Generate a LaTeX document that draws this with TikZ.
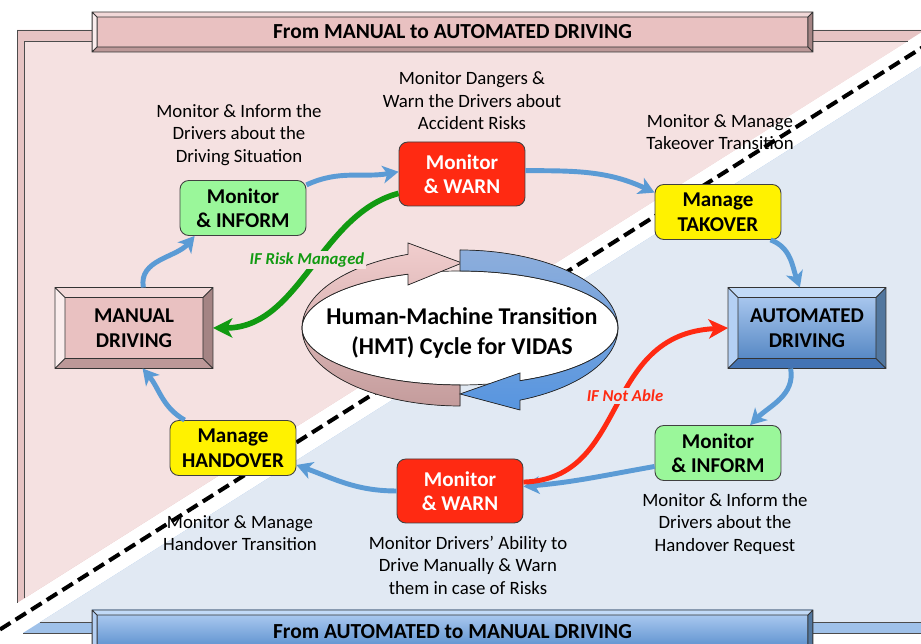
\documentclass[tikz,border=0pt]{standalone}
\usepackage{fontspec}
\setmainfont{Carlito}
\usepackage{tikz}
\usetikzlibrary{arrows.meta,calc,positioning}
\usepackage{color}

\definecolor{pinkband}{HTML}{E6C3C3}
\definecolor{pinkbg}{HTML}{F5E1E1}
\definecolor{blueband}{HTML}{9FC1E9}
\definecolor{bluebg}{HTML}{E1E9F3}
\definecolor{flowblue}{HTML}{5B9BD5}
\definecolor{riskgreen}{HTML}{119A11}
\definecolor{alertred}{HTML}{FF2A12}
\definecolor{informgreen}{HTML}{9AF79A}
\definecolor{manualface}{HTML}{E9C1C1}
\definecolor{manualtop}{HTML}{F2D8D8}
\definecolor{manualleft}{HTML}{FAEDED}
\definecolor{manualright}{HTML}{A48484}
\definecolor{manualbottom}{HTML}{BC9898}
\definecolor{autotop}{HTML}{C2DAF7}
\definecolor{autoleft}{HTML}{B4D0F4}
\definecolor{autoright}{HTML}{52779F}
\definecolor{autobottom}{HTML}{4474B4}
\definecolor{ringpinklight}{HTML}{F1CDCD}
\definecolor{ringpinkdark}{HTML}{C49C9C}
\definecolor{ringbluelight}{HTML}{8DAEDC}
\definecolor{ringbluedark}{HTML}{5795DF}

\tikzset{
  drivebox/.style={rectangle, outer sep=0pt, minimum width=3.16cm, minimum height=1.62cm,
    align=center, font=\bfseries\fontsize{12}{14}\selectfont},
  taskbox/.style={rectangle, rounded corners=5pt, draw=black!75, line width=0.5pt,
    minimum width=2.52cm, minimum height=1.1cm, align=center,
    font=\bfseries\fontsize{12}{14}\selectfont},
  warnbox/.style={taskbox, fill=alertred, text=white, minimum height=1.28cm},
  informbox/.style={taskbox, fill=informgreen},
  managebox/.style={taskbox, fill=yellow},
  note/.style={align=center, font=\fontsize{10.7}{12.8}\selectfont},
  banner/.style={rectangle, outer sep=0pt, minimum width=14.42cm,
    font=\bfseries\fontsize{12.2}{14}\selectfont},
  bevelline/.style={draw=black!80, line width=0.5pt},
  ringline/.style={draw=black!85, line width=0.4pt},
  flow/.style={draw=flowblue, line width=2.8pt, -{Stealth[length=9pt,width=10pt,inset=2.5pt]}},
  riskflow/.style={draw=riskgreen, line width=3.2pt, -{Stealth[length=11pt,width=11pt,inset=3pt]}},
  alertflow/.style={draw=alertred, line width=2.8pt, -{Stealth[length=11pt,width=11pt,inset=3pt]}},
  cond/.style={font=\bfseries\itshape\fontsize{9.5}{11}\selectfont, inner sep=1pt},
}

% bevel faces round a node: node, width, top, left, right, bottom
\newcommand{\bevelframe}[6]{%
  \fill[#3] (#1.north west) -- (#1.north east) -- ($(#1.north east)+(-#2,-#2)$) -- ($(#1.north west)+(#2,-#2)$) -- cycle;
  \fill[#4] (#1.north west) -- (#1.south west) -- ($(#1.south west)+(#2,#2)$) -- ($(#1.north west)+(#2,-#2)$) -- cycle;
  \fill[#5] (#1.north east) -- (#1.south east) -- ($(#1.south east)+(-#2,#2)$) -- ($(#1.north east)+(-#2,-#2)$) -- cycle;
  \fill[#6] (#1.south west) -- (#1.south east) -- ($(#1.south east)+(-#2,#2)$) -- ($(#1.south west)+(#2,#2)$) -- cycle;
  \draw[bevelline] (#1.north west) rectangle (#1.south east)
    ($(#1.north west)+(#2,-#2)$) rectangle ($(#1.south east)+(-#2,#2)$)
    (#1.north west) -- ++(#2,-#2) (#1.north east) -- ++(-#2,-#2)
    (#1.south west) -- ++(#2,#2) (#1.south east) -- ++(-#2,#2);
}

\begin{document}
\begin{tikzpicture}[x=0.02cm, y=0.02cm]
  \useasboundingbox (0,0) rectangle (921,644);
  \clip (0,0) rectangle (921,644);

  % manual half (pink) and automated half (blue)
  \fill[pinkband] (17,614) -- (925,614) -- (17,41) -- cycle;
  \fill[pinkbg] (24,603) -- (908,603) -- (24,45.5) -- cycle;
  \draw[black!70, line width=0.4pt] (17,41) -- (17,614) -- (925,614) (24,45.5) -- (24,603) -- (908,603);
  \fill[blueband] (23,11) -- (925,11) -- (925,580) -- cycle;
  \fill[bluebg] (40.4,22) -- (925,22) -- (925,580) -- cycle;
  \draw[black!70, line width=0.4pt] (23,11) -- (925,11) (40.4,22) -- (925,22);
  \draw[line width=2.3pt, dash pattern=on 7pt off 3.5pt] (0,14.5) -- (925,598.2);

  % banners
  \node[banner, fill=manualface, minimum height=0.8cm] (tobanner) at (452.5,612) {From MANUAL to AUTOMATED DRIVING};
  \bevelframe{tobanner}{5}{manualtop}{manualleft}{manualright}{manualbottom}
  \node[banner, top color=autoleft, bottom color=ringbluedark!90!black, minimum height=0.88cm] (tmbanner) at (452.5,12) {From AUTOMATED to MANUAL DRIVING};
  \bevelframe{tmbanner}{5}{autotop}{autoleft}{autoright}{autobottom}

  % HMT cycle in the middle
  \filldraw[fill=white, ringline] plot[domain=0:360, samples=100] ({460+158*cos(\x)},{316+57*sin(\x)}) -- cycle;
  \filldraw[ringline, top color=ringpinklight, bottom color=ringpinkdark]
    plot[domain=270:109.2, samples=60] ({460+158*cos(\x)},{316+78*sin(\x)})
    -- (408,401) -- (462,381) -- (408,359)
    -- plot[domain=109.2:270, samples=60] ({460+158*cos(\x)},{316+57*sin(\x)}) -- cycle;
  \filldraw[ringline, top color=ringbluelight, bottom color=ringbluedark]
    plot[domain=90:-67.7, samples=60] ({460+158*cos(\x)},{316+78*sin(\x)})
    -- (520,234) -- (460,250) -- (520,271)
    -- plot[domain=-67.7:90, samples=60] ({460+158*cos(\x)},{316+57*sin(\x)}) -- cycle;
  \node[align=center, font=\bfseries\fontsize{13.7}{17}\selectfont] (hmt) at (462,311)
    {Human-Machine Transition\\(HMT) Cycle for VIDAS};

  % driving modes
  \node[drivebox, fill=manualface] (manual) at (134,316) {MANUAL\\DRIVING};
  \bevelframe{manual}{10}{manualtop}{manualleft}{manualright}{manualbottom}
  \node[drivebox, top color=autoleft, bottom color=ringbluedark!85!black] (automated) at (807,316) {AUTOMATED\\DRIVING};
  \bevelframe{automated}{10}{autotop}{autoleft}{autoright}{autobottom}

  % HMT steps
  \node[informbox] (inform1) at (243,436) {Monitor\\\& INFORM};
  \node[warnbox] (warn1) at (462,470) {Monitor\\\& WARN};
  \node[managebox] (takeover) at (718,432) {Manage\\TAKOVER};
  \node[informbox] (inform2) at (718,191) {Monitor\\\& INFORM};
  \node[warnbox] (warn2) at (460,153) {Monitor\\\& WARN};
  \node[managebox] (handover) at (233,196) {Manage\\HANDOVER};

  % notes
  \node[note] (inform1note) at (239,509) {Monitor \& Inform the\\Drivers about the\\Driving Situation};
  \node[note] (warn1note) at (472,543) {Monitor Dangers \&\\Warn the Drivers about\\Accident Risks};
  \node[note] (takeovernote) at (720,512) {Monitor \& Manage\\Takeover Transition};
  \node[note] (inform2note) at (725,120) {Monitor \& Inform the\\Drivers about the\\Handover Request};
  \node[note] (warn2note) at (468,79) {Monitor Drivers’ Ability to\\Drive Manually \& Warn\\them in case of Risks};
  \node[note] (handovernote) at (240,111) {Monitor \& Manage\\Handover Transition};

  % cycle arrows
  \draw[flow] (manual.77) to[out=100, in=230] (inform1.-150);
  \draw[flow] (inform1.20) to[out=25, in=190] (warn1.178);
  \draw[flow] (warn1.3) to[out=0, in=155] (takeover.163);
  \draw[flow] (takeover.-28) to[out=-20, in=110] (automated.100);
  \draw[flow] (automated.-112) to[out=-80, in=45] (inform2.41);
  \draw[flow] (inform2.192) to[out=190, in=5] (warn2.4);
  \draw[flow] (warn2.west) to[out=180, in=-20] (handover.-15);
  \draw[flow] (handover.150) to[out=150, in=-50] (manual.-78);

  % fall-back arrows
  \draw[riskflow] (warn1.197) .. controls (320,430) and (300,316) .. (manual.east);
  \node[cond, text=riskgreen, fill=pinkbg] (riskcond) at (307,384) {IF Risk Managed};
  \draw[alertflow] (warn2.8) .. controls (630,165) and (600,310) .. (automated.west);
  \node[cond, text=alertred, fill=bluebg] (ablecond) at (625,248) {IF Not Able};
\end{tikzpicture}
\end{document}
